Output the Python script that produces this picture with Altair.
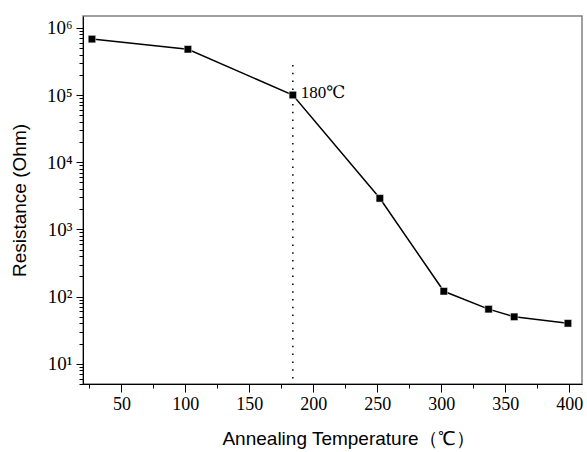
import altair as alt
import pandas as pd

# data
temps = [27, 102, 184, 252, 302, 337, 357, 399]
resist = [6.8e5, 4.8e5, 1.0e5, 2.9e3, 120, 65, 50, 40]

x_major = [50, 100, 150, 200, 250, 300, 350, 400]
x_minor = [25, 75, 125, 175, 225, 275, 325, 375]
y_major = [10, 100, 1000, 10000, 100000, 1000000]
y_minor = [m * 10 ** k for k in range(0, 6) for m in range(2, 10) if m * 10 ** k >= 5]

mark_x = [184]
mark_top = [2.8e5]
mark_bottom = [5]
mark_y = [1.0e5]
mark_label = ["180℃"]

df = pd.DataFrame({"T": temps, "R": resist})
ann = pd.DataFrame({"T": mark_x, "top": mark_top, "bottom": mark_bottom, "R": mark_y, "label": mark_label})

xscale = alt.Scale(domain=[20, 410], nice=False, zero=False)
yscale = alt.Scale(type="log", domain=[5, 1.5e6], nice=False)

serif = "'Liberation Serif', 'DejaVu Serif', serif"
sans = "'Liberation Sans', Arial, sans-serif"

x_axis = alt.Axis(
    orient="bottom", values=x_major, grid=False, tickSize=8, tickColor="black",
    domainColor="black", labelFont=serif, labelFontSize=18, labelColor="black",
    labelPadding=3, title="Annealing Temperature（℃）", titleFont=sans,
    titleFontSize=19, titleFontWeight="normal", titleColor="black",
    titleBaseline="middle", titleY=54, titleX=265,
)
y_axis = alt.Axis(
    orient="left", values=y_major, grid=False, tickSize=7, tickColor="black",
    domainColor="black", labelFont=serif, labelFontSize=19, labelColor="black",
    labelPadding=4,
    labelExpr="'10' + ['⁰','¹','²','³','⁴','⁵','⁶'][round(log(datum.value)/LN10)]",
    title="Resistance (Ohm)", titleFont=sans, titleFontSize=19,
    titleFontWeight="normal", titleColor="black", titleX=-64, titleY=184,
    titleBaseline="middle", titleAngle=270,
)
x_minor_axis = alt.Axis(
    orient="bottom", values=x_minor, grid=False, tickSize=4, tickColor="black",
    domain=False, labels=False, title=None,
)
y_minor_axis = alt.Axis(
    orient="left", values=y_minor, grid=False, tickSize=4, tickColor="black",
    domain=False, labels=False, title=None,
)

line = alt.Chart(df).mark_line(color="black", strokeWidth=1.5).encode(
    x=alt.X("T:Q", scale=xscale, axis=x_axis),
    y=alt.Y("R:Q", scale=yscale, axis=y_axis),
)
minor = alt.Chart(df).mark_point(opacity=0).encode(
    x=alt.X("T:Q", scale=xscale, axis=x_minor_axis),
    y=alt.Y("R:Q", scale=yscale, axis=y_minor_axis),
)
pts = alt.Chart(df).mark_square(size=56, color="black", opacity=1, stroke="white", strokeWidth=0.5).encode(
    x=alt.X("T:Q", axis=None), y=alt.Y("R:Q", axis=None)
)
vline = alt.Chart(ann).mark_rule(color="black", strokeWidth=1.5, strokeDash=[1.5, 6.3]).encode(
    x=alt.X("T:Q", axis=None), y=alt.Y("top:Q", axis=None), y2="bottom:Q"
)
label = alt.Chart(ann).mark_text(align="left", baseline="middle", dx=8, dy=-2, font=serif, fontSize=17, color="black").encode(
    x=alt.X("T:Q", axis=None), y=alt.Y("R:Q", axis=None), text="label:N"
)

chart = (
    alt.layer(line, minor, vline, pts, label)
    .resolve_axis(x="independent", y="independent")
    .properties(width=499, height=368, padding={"left": 83, "top": 16, "right": 5, "bottom": 68},
                autosize=alt.AutoSizeParams(type="none"), background="white")
    .configure_view(stroke="#808080", strokeWidth=1.5)
)

chart.save("out.html", embed_options={"renderer": "svg", "actions": False})
